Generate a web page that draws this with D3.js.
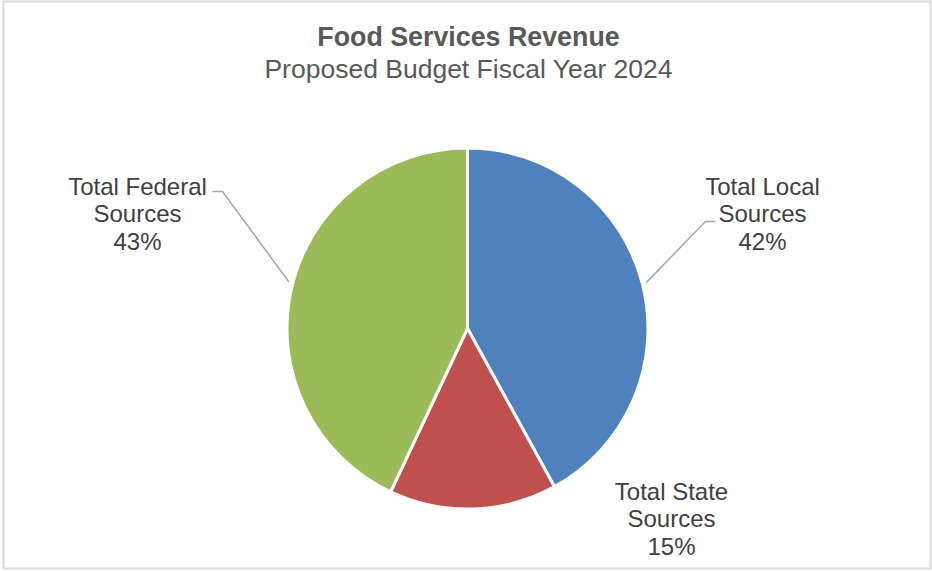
<!DOCTYPE html>
<html>
<head>
<meta charset="utf-8">
<script src="https://cdn.jsdelivr.net/npm/d3@7"></script>
<style>
  html, body { margin: 0; padding: 0; background: #fff; }
  svg { display: block; }
  text { font-family: "Liberation Sans", Arial, sans-serif; }
</style>
</head>
<body>
<svg id="chart" width="932" height="571"></svg>
<script>
// Revenue shares by source (percent), in drawing order clockwise from 12 o'clock
const categories = ["Total Local Sources", "Total State Sources", "Total Federal Sources"];
const labelLines = [["Total Local", "Sources"], ["Total State", "Sources"], ["Total Federal", "Sources"]];
const shares = [42, 15, 43];
const colors = ["#4F81BD", "#C0504D", "#9BBB59"];
const titleText = "Food Services Revenue";
const subtitleText = "Proposed Budget Fiscal Year 2024";

const W = 932, H = 571;
const cx = 467.5, cy = 328.5, R = 180.5;

const svg = d3.select("#chart");

// chart frame
svg.append("rect")
  .attr("x", 3.5).attr("y", 1.5)
  .attr("width", W - 5).attr("height", H - 4)
  .attr("fill", "#fff").attr("stroke", "#d9d9d9").attr("stroke-width", 2);

// titles
svg.append("text")
  .attr("x", cx + 1).attr("y", 45.5)
  .attr("text-anchor", "middle")
  .attr("font-size", 26.8).attr("font-weight", "bold")
  .attr("fill", "#595959")
  .text(titleText);
svg.append("text")
  .attr("x", cx + 1).attr("y", 78)
  .attr("text-anchor", "middle")
  .attr("font-size", 26.5)
  .attr("fill", "#595959")
  .text(subtitleText);

const color = d3.scaleOrdinal().domain(categories).range(colors);
const data = categories.map((c, i) => ({ name: c, value: shares[i], lines: labelLines[i] }));

const pie = d3.pie().value(d => d.value).sort(null);
const arc = d3.arc().innerRadius(0).outerRadius(R);
const arcs = pie(data);

const g = svg.append("g").attr("transform", `translate(${cx},${cy})`);

g.selectAll("path.slice")
  .data(arcs)
  .join("path")
  .attr("class", "slice")
  .attr("d", arc)
  .attr("fill", d => color(d.data.name))
  .attr("stroke", "#fff")
  .attr("stroke-width", 3)
  .attr("stroke-linejoin", "round");

// label placement (offsets from the pie centre) and optional leader elbows
const labelPos = [
  { x: 295, y: -134, leader: { elbowX: 238, elbowY: -107, endX: 248, bend: 0 } },
  { x: 204, y: 171, leader: null },
  { x: -330, y: -134, leader: { elbowX: -245, elbowY: -137, endX: -255, bend: 0.035 } }
];

const lineH = 27.5;

arcs.forEach((d, i) => {
  const p = labelPos[i];
  const pct = Math.round(d.data.value) + "%";
  const t = g.append("text")
    .attr("text-anchor", "middle")
    .attr("font-size", 24)
    .attr("fill", "#404040");
  d.data.lines.concat([pct]).forEach((ln, k) => {
    t.append("tspan").attr("x", p.x).attr("y", p.y + k * lineH).text(ln);
  });

  if (p.leader) {
    const mid = (d.startAngle + d.endAngle) / 2 + p.leader.bend;
    const rr = R + 4;
    const sx = rr * Math.sin(mid), sy = -rr * Math.cos(mid);
    const path = d3.path();
    path.moveTo(sx, sy);
    path.lineTo(p.leader.elbowX, p.leader.elbowY);
    path.lineTo(p.leader.endX, p.leader.elbowY);
    g.append("path")
      .attr("d", path.toString())
      .attr("fill", "none")
      .attr("stroke", "#a6a6a6")
      .attr("stroke-width", 1.5);
  }
});
</script>
</body>
</html>
